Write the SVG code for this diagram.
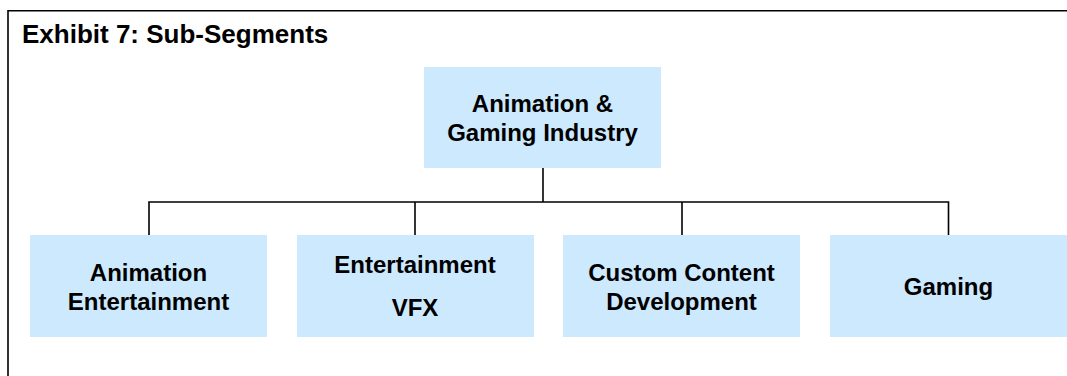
<svg xmlns="http://www.w3.org/2000/svg" width="1067" height="376" viewBox="0 0 1067 376">
<style>
.box{fill:#cce9fd;}
.t{font-family:"Liberation Sans",Arial,sans-serif;font-weight:bold;font-size:24px;fill:#000;text-anchor:middle;}
.title{font-family:"Liberation Sans",Arial,sans-serif;font-weight:bold;font-size:26px;fill:#000;}
.ln{stroke:#000;stroke-width:1.6;fill:none;}
</style>
<rect width="1067" height="376" fill="#fff"/>
<path class="ln" d="M8,376 V10.7 H1067"/>
<text class="title" x="22" y="43">Exhibit 7: Sub-Segments</text>
<g id="connectors">
<path class="ln" d="M543,168 V202"/>
<path class="ln" d="M149,235 V202 H948.5 V235"/>
<path class="ln" d="M415,202 V235"/>
<path class="ln" d="M682,202 V235"/>
</g>
<g id="root">
<rect class="box" x="424" y="67" width="237" height="101"/>
<text class="t" x="542.5" y="112">Animation &amp;</text>
<text class="t" x="542.5" y="141">Gaming Industry</text>
</g>
<g id="animation-entertainment">
<rect class="box" x="30" y="235" width="237" height="102"/>
<text class="t" x="148.5" y="281">Animation</text>
<text class="t" x="148.5" y="309.5">Entertainment</text>
</g>
<g id="entertainment-vfx">
<rect class="box" x="297" y="235" width="237" height="102"/>
<text class="t" x="415" y="272.5">Entertainment</text>
<text class="t" x="415" y="316">VFX</text>
</g>
<g id="custom-content">
<rect class="box" x="563" y="235" width="237" height="102"/>
<text class="t" x="681.5" y="281">Custom Content</text>
<text class="t" x="681.5" y="309.5">Development</text>
</g>
<g id="gaming">
<rect class="box" x="830" y="235" width="237" height="102"/>
<text class="t" x="948.5" y="295">Gaming</text>
</g>
</svg>
